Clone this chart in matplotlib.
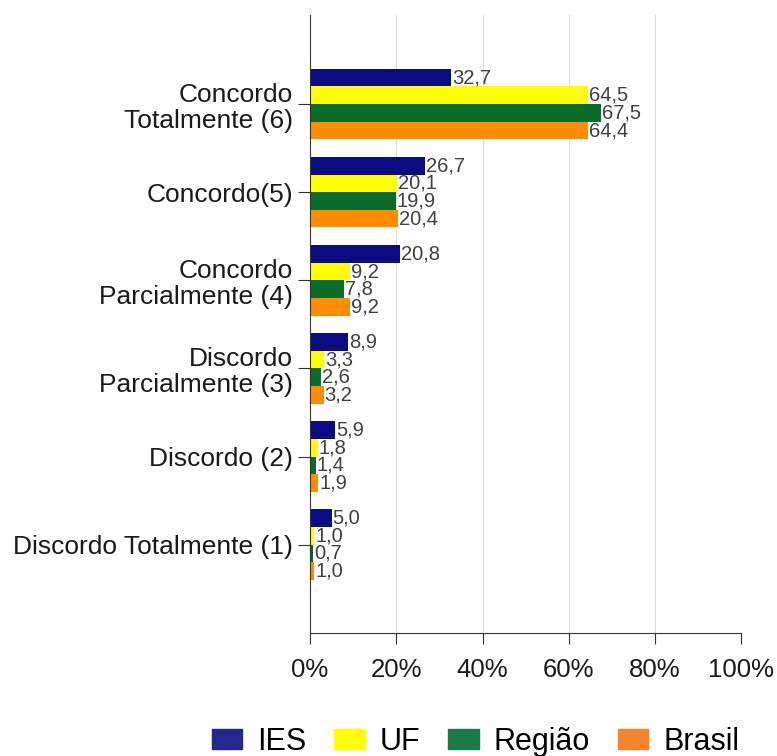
import matplotlib
matplotlib.use("Agg")
import matplotlib.pyplot as plt
import numpy as np

categorias = ["Concordo\nTotalmente (6)", "Concordo(5)", "Concordo\nParcialmente (4)",
              "Discordo\nParcialmente (3)", "Discordo (2)", "Discordo Totalmente (1)"]
ies = [32.7, 26.7, 20.8, 8.9, 5.9, 5.0]
uf = [64.5, 20.1, 9.2, 3.3, 1.8, 1.0]
regiao = [67.5, 19.9, 7.8, 2.6, 1.4, 0.7]
brasil = [64.4, 20.4, 9.2, 3.2, 1.9, 1.0]
series = ["IES", "UF", "Região", "Brasil"]
cores = ["#0b0b84", "#ffff00", "#0b6b2a", "#ff8c00"]
cores_legenda = ["#262690", "#ffff00", "#1a7a48", "#f5842a"]

plt.rcParams['font.family'] = ['Liberation Sans', 'DejaVu Sans']

fig = plt.figure(figsize=(7.77, 7.56), dpi=100)
ax = fig.add_axes([0.399, 0.163, 0.555, 0.817])

y = np.arange(len(categorias))
h = 0.2
handles = []
for i, (nome, vals, cor) in enumerate(zip(series, [ies, uf, regiao, brasil], cores)):
    pos = y - 0.3 + i * h
    ax.barh(pos, vals, height=h, color=cor)
    handles.append(plt.Rectangle((0, 0), 1, 1, color=cores_legenda[i], label=nome))
    for p, v in zip(pos, vals):
        ax.text(v + 0.2, p, f"{v:.1f}".replace(".", ","), va="center", ha="left",
                fontsize=14.5, color="#404040")

ax.set_xlim(0, 100)
ax.set_ylim(6.0, -1.01)
ax.set_yticks(y)
ax.set_yticklabels(categorias, fontsize=19, color="#1a1a1a", linespacing=1.1)
ax.set_xticks(range(0, 101, 20))
ax.set_xticklabels([f"{t}%" for t in range(0, 101, 20)], fontsize=18.5, color="#1a1a1a")
ax.tick_params(axis="y", length=9, color="#333333", pad=3)
ax.tick_params(axis="x", length=8, color="#333333", pad=10)
ax.xaxis.grid(True, color="#dddddd", linewidth=0.8)
ax.set_axisbelow(True)
for s in ["top", "right"]:
    ax.spines[s].set_visible(False)
ax.spines["left"].set_color("#333333")
ax.spines["bottom"].set_color("#333333")

fig.legend(handles=handles, loc="center", bbox_to_anchor=(0.612, 0.019), ncol=4,
           frameon=False, fontsize=22, handlelength=1.0, handleheight=0.65,
           columnspacing=0.9, handletextpad=0.5)

fig.savefig("out.png", dpi=100)
